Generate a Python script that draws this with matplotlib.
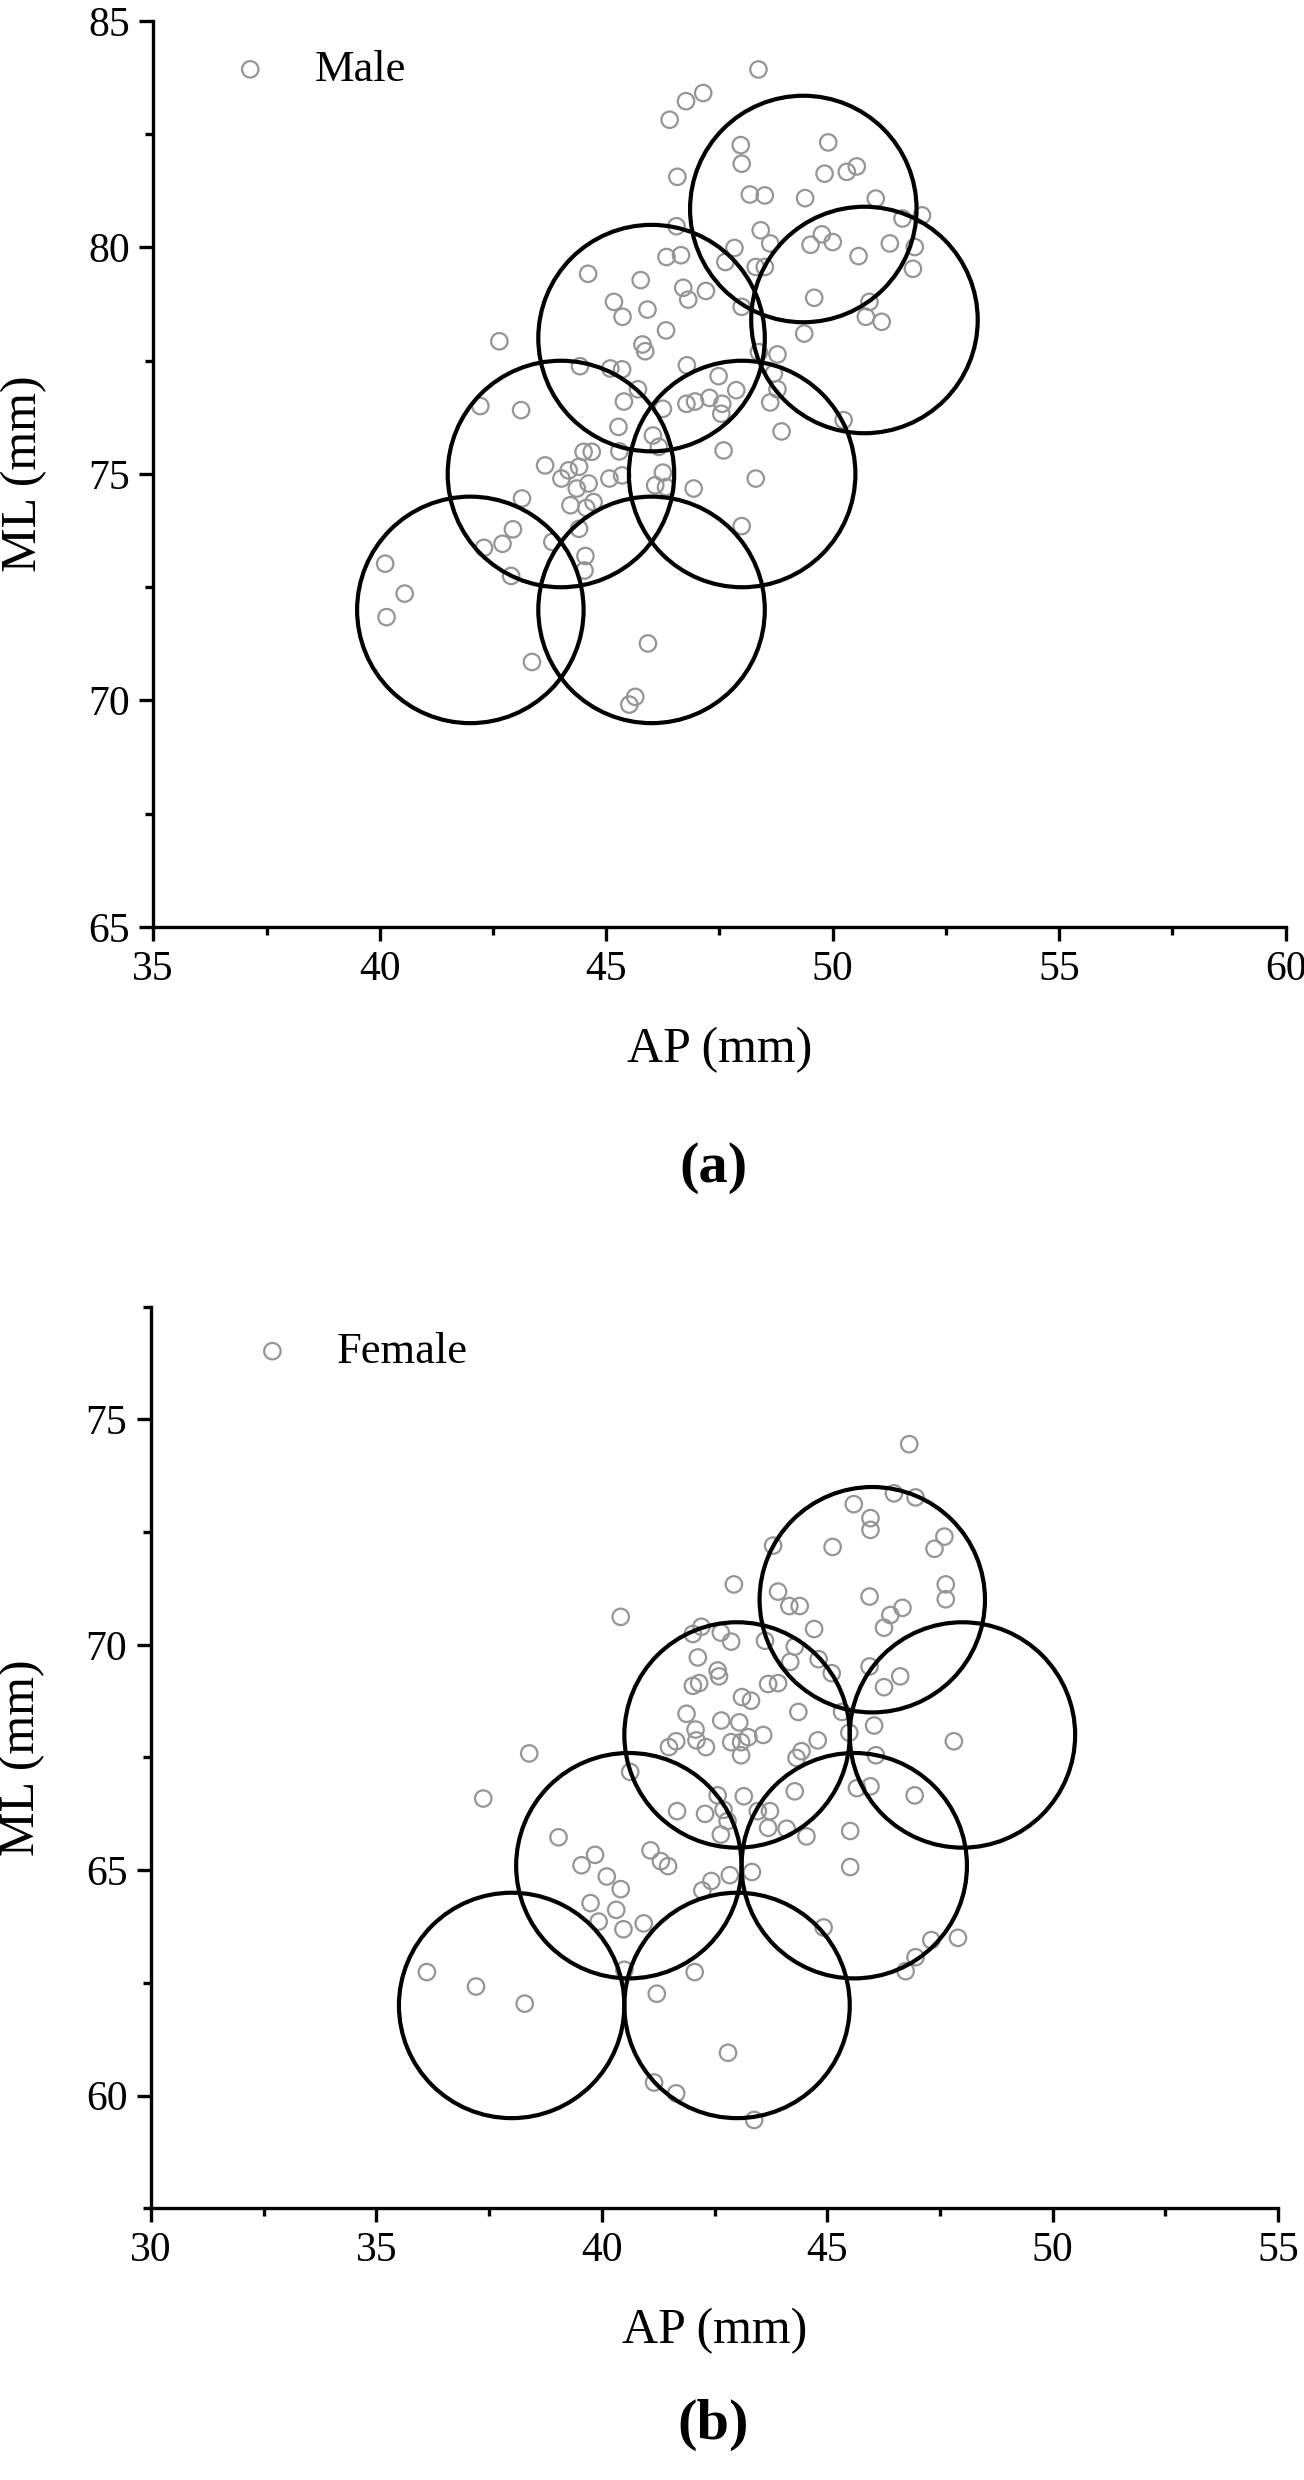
import matplotlib
matplotlib.use('Agg')
import matplotlib.pyplot as plt
from matplotlib.patches import Circle
from matplotlib.ticker import MultipleLocator

plt.rcParams['font.family'] = ['Liberation Serif', 'DejaVu Serif']

# ---- Male (a): AP / ML in mm ----
male_ap = [48.36, 47.14, 46.76, 46.40, 47.97, 47.99, 49.90, 50.53, 50.31, 49.82,
           46.57, 48.17, 48.50, 49.39, 50.95, 51.54, 51.97, 46.55, 48.41, 48.62,
           49.51, 49.76, 50.00, 51.26, 50.57, 51.81, 51.77, 47.83, 47.63, 48.30,
           48.50, 46.33, 46.65, 44.60, 45.76, 46.70, 46.81, 47.20, 45.17, 45.36,
           45.91, 47.99, 49.59, 50.81, 50.73, 51.08, 49.37, 46.32, 45.80, 45.86,
           42.64, 44.42, 45.09, 45.35, 46.78, 47.48, 48.37, 48.78, 48.70,
           42.22, 43.12, 45.39, 45.70, 46.77, 46.96, 47.28, 47.56, 47.54, 47.87,
           48.62, 48.78, 46.25, 50.24, 48.87, 45.27, 46.03, 47.59, 48.30, 46.93,
           47.99, 43.65, 44.17, 44.01, 44.40, 44.50, 44.68, 44.35, 44.61, 45.07,
           45.35, 45.29, 46.16, 46.25, 46.08, 46.32, 43.14, 44.21, 44.56, 44.72,
           44.40, 42.94, 42.71, 42.30, 43.81, 44.54, 44.52, 42.90, 40.12, 40.55,
           40.15, 43.36, 45.92, 45.64, 45.51]
male_ml = [83.93, 83.41, 83.23, 82.82, 82.26, 81.85, 82.32, 81.79, 81.67, 81.63,
           81.56, 81.17, 81.15, 81.09, 81.08, 80.64, 80.71, 80.47, 80.38, 80.09,
           80.06, 80.29, 80.12, 80.09, 79.81, 80.01, 79.53, 79.99, 79.68, 79.57,
           79.57, 79.79, 79.83, 79.42, 79.28, 79.11, 78.85, 79.04, 78.80, 78.47,
           78.63, 78.69, 78.89, 78.80, 78.47, 78.36, 78.10, 78.17, 77.86, 77.71,
           77.93, 77.38, 77.33, 77.31, 77.40, 77.16, 77.69, 77.64, 77.22,
           76.50, 76.41, 76.60, 76.87, 76.55, 76.60, 76.68, 76.55, 76.33, 76.85,
           76.58, 76.87, 76.44, 76.19, 75.94, 76.04, 75.85, 75.52, 74.90, 74.68,
           73.85, 75.19, 75.08, 74.90, 75.16, 75.49, 75.49, 74.68, 74.79, 74.90,
           74.97, 75.50, 75.60, 75.03, 74.75, 74.71, 74.46, 74.31, 74.25, 74.38,
           73.79, 73.78, 73.46, 73.37, 73.50, 73.19, 72.87, 72.75, 73.02, 72.36,
           71.84, 70.85, 71.26, 70.08, 69.91]

# ---- Female (b) ----
female_ap = [46.82, 45.59, 46.48, 46.96, 45.96, 45.96, 43.80, 45.12, 47.60, 47.38,
             42.93, 47.63, 47.63, 45.94, 43.91, 44.16, 44.39, 46.67, 46.40, 46.26,
             44.71, 40.42, 42.21, 42.02, 42.64, 42.87, 43.62, 44.28, 44.18, 44.81,
             45.10, 45.94, 46.62, 46.26, 42.13, 42.57, 42.60, 42.02, 42.16, 43.69,
             43.91, 43.11, 43.31, 44.36, 45.33, 41.88, 42.65, 43.05, 42.08, 43.58,
             45.49, 46.04, 47.81, 42.10, 42.31, 41.65, 41.49, 42.87, 43.09, 43.25,
             43.09, 44.79, 44.43, 44.32, 46.08, 38.39, 40.63,
             37.37, 39.04, 39.85, 39.55, 40.11, 40.42, 39.75, 40.32, 39.93, 40.48,
             40.93, 41.08, 41.31, 41.47, 41.67, 42.29, 42.57, 42.70, 42.79, 42.64,
             43.15, 43.46, 43.73, 43.69, 44.10, 44.54, 44.28, 45.51, 45.51, 45.66,
             45.96, 46.94, 42.84, 43.33, 42.43, 42.23, 44.92, 47.31, 47.90, 46.96,
             46.74, 40.50, 42.06, 41.22, 36.12, 37.21, 38.29, 42.80, 41.16, 41.65,
             43.38]
female_ml = [74.45, 73.12, 73.36, 73.27, 72.81, 72.55, 72.20, 72.17, 72.40, 72.13,
             71.34, 71.34, 71.01, 71.07, 71.18, 70.86, 70.86, 70.82, 70.66, 70.38,
             70.35, 70.62, 70.40, 70.24, 70.27, 70.07, 70.09, 69.96, 69.62, 69.68,
             69.37, 69.52, 69.30, 69.06, 69.72, 69.43, 69.30, 69.09, 69.15, 69.13,
             69.15, 68.84, 68.76, 68.51, 68.51, 68.47, 68.32, 68.28, 68.12, 68.00,
             68.05, 68.21, 67.86, 67.88, 67.73, 67.86, 67.73, 67.84, 67.84, 67.95,
             67.55, 67.88, 67.64, 67.49, 67.55, 67.59, 67.18,
             66.59, 65.73, 65.34, 65.11, 64.86, 64.58, 64.27, 64.12, 63.86, 63.69,
             63.82, 65.44, 65.20, 65.09, 66.31, 66.25, 66.66, 66.34, 66.09, 65.79,
             66.64, 66.31, 66.31, 65.94, 65.92, 65.75, 66.75, 65.87, 65.07, 66.82,
             66.86, 66.66, 64.89, 64.96, 64.76, 64.55, 63.73, 63.45, 63.50, 63.07,
             62.76, 62.79, 62.74, 62.26, 62.74, 62.42, 62.04, 60.95, 60.29, 60.05,
             59.46]

# size circles (centre AP, centre ML), radius 2.5 mm
male_circ_ap = [42, 46, 44, 48, 46, 50.7, 49.35]
male_circ_ml = [72, 72, 75, 75, 78, 78.4, 80.85]
female_circ_ap = [38, 43, 40.6, 45.6, 43, 48, 46]
female_circ_ml = [62, 62, 65.1, 65.1, 68, 68, 71]
radius = 2.5

fig = plt.figure(figsize=(13.04, 24.8), dpi=100)
ax1 = fig.add_axes([153 / 1304, 1 - 927 / 2480, 1133 / 1304, 906 / 2480])
ax2 = fig.add_axes([151 / 1304, 1 - 2211 / 2480, 1127 / 1304, 907 / 2480])


def draw_panel(ax, ap, ml, cap, cml, label, xlim, ylim, yticks, leg_xy):
    for cx, cy in zip(cap, cml):
        ax.add_patch(Circle((cx, cy), radius, fill=False, ec='black', lw=3.0, zorder=3))
    ax.scatter(ap, ml, s=140, facecolors='none', edgecolors='#959595',
               linewidths=1.6, label=label, zorder=2)
    ax.set_xlim(*xlim)
    ax.set_ylim(*ylim)
    ax.set_aspect('equal')
    ax.set_yticks(yticks)
    ax.xaxis.set_major_locator(MultipleLocator(5))
    ax.xaxis.set_minor_locator(MultipleLocator(2.5))
    ax.yaxis.set_minor_locator(MultipleLocator(2.5))
    for s in ['top', 'right']:
        ax.spines[s].set_visible(False)
    for s in ['left', 'bottom']:
        ax.spines[s].set_linewidth(2.4)
    ax.tick_params(which='major', direction='out', length=10, width=2.4,
                   labelsize=30, pad=7)
    ax.tick_params(which='minor', direction='out', length=5.5, width=2.4)
    ax.set_xlabel('AP (mm)', fontsize=36)
    ax.set_ylabel('ML (mm)', fontsize=36)
    ax.xaxis.set_label_coords(0.5, -0.11)
    ax.yaxis.set_label_coords(-0.094, 0.5)
    ax.legend(loc='center left', bbox_to_anchor=leg_xy, frameon=False,
              fontsize=32, handlelength=1.0, handletextpad=0.95,
              borderpad=0, borderaxespad=0)


draw_panel(ax1, male_ap, male_ml, male_circ_ap, male_circ_ml, 'Male',
           (35, 60), (65, 85), [65, 70, 75, 80, 85], (0.066, 0.946))
draw_panel(ax2, female_ap, female_ml, female_circ_ap, female_circ_ml, 'Female',
           (30, 55), (57.5, 77.5), [60, 65, 70, 75], (0.088, 0.95))

fig.text(0.547, 1 - 1168 / 2480, '(a)', ha='center', va='center',
         fontsize=42, fontweight='bold')
fig.text(0.547, 1 - 2425 / 2480, '(b)', ha='center', va='center',
         fontsize=42, fontweight='bold')

fig.savefig('out.png', dpi=100)
